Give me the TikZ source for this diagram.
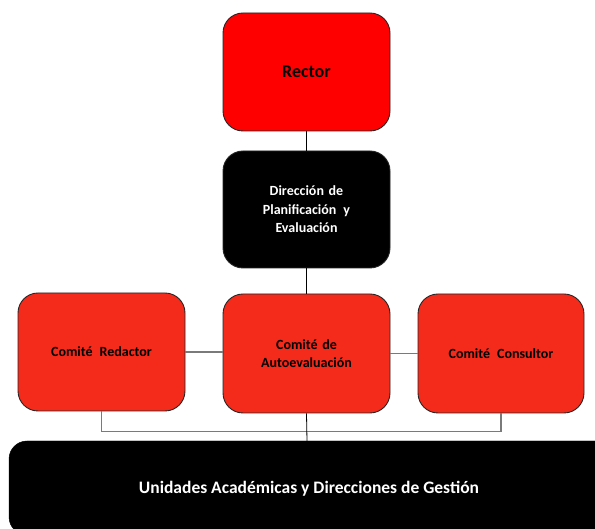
\documentclass[tikz,border=0pt]{standalone}
\usepackage{fontspec}
\setmainfont{Carlito}
\definecolor{rectorred}{HTML}{FF0000}
\definecolor{comred}{HTML}{F42A1A}
\definecolor{lgray}{HTML}{7A7A7A}
\begin{document}
\begin{tikzpicture}[x=1pt,y=1pt,
  box/.style={draw=black!85, line width=0.9pt, rounded corners=20pt, minimum width=167pt, minimum height=118pt, inner sep=2pt, align=center, font=\bfseries\fontsize{14}{18.5}\selectfont, text width=155pt},
  redbox/.style={box, fill=comred},
  conn/.style={draw=black, line width=0.8pt},
  gconn/.style={draw=lgray, line width=1.4pt}]
\useasboundingbox (0,0) rectangle (595,529);
\clip (0,0) rectangle (595,529);
\node[box, fill=rectorred, font=\bfseries\fontsize{18}{22}\selectfont] (rector) at (306.5,457) {Rector};
\node[box, fill=black, text=white, minimum height=117pt] (dir) at (306.5,319.5) {Dirección de\\Planificación\, y\\Evaluación};
\node[redbox] (red) at (101.5,177) {Comité\, Redactor};
\node[redbox, minimum height=119pt] (auto) at (306.5,175.5) {Comité de\\Autoevaluación};
\node[redbox, minimum width=166pt, minimum height=119pt] (cons) at (501,175.5) {Comité\, Consultor};
\draw[fill=black, rounded corners=18pt] (9,-6) rectangle (615,88);
\node[text=white, font=\bfseries\fontsize{17.5}{21}\selectfont] (unid) at (309,40) {Unidades Académicas y Direcciones de Gestión};
\coordinate (unidtop) at (307,88);
\draw[conn] (rector) -- (dir);
\draw[conn] (dir) -- (auto);
\draw[gconn] (red.east) -- (red.east -| auto.west);
\draw[gconn] (auto.east) -- (auto.east -| cons.west);
\draw[gconn] (red.south) -- ++(0,-20) -| (cons.south);
\draw[conn] (auto.south) -- (unidtop);
\end{tikzpicture}
\end{document}
